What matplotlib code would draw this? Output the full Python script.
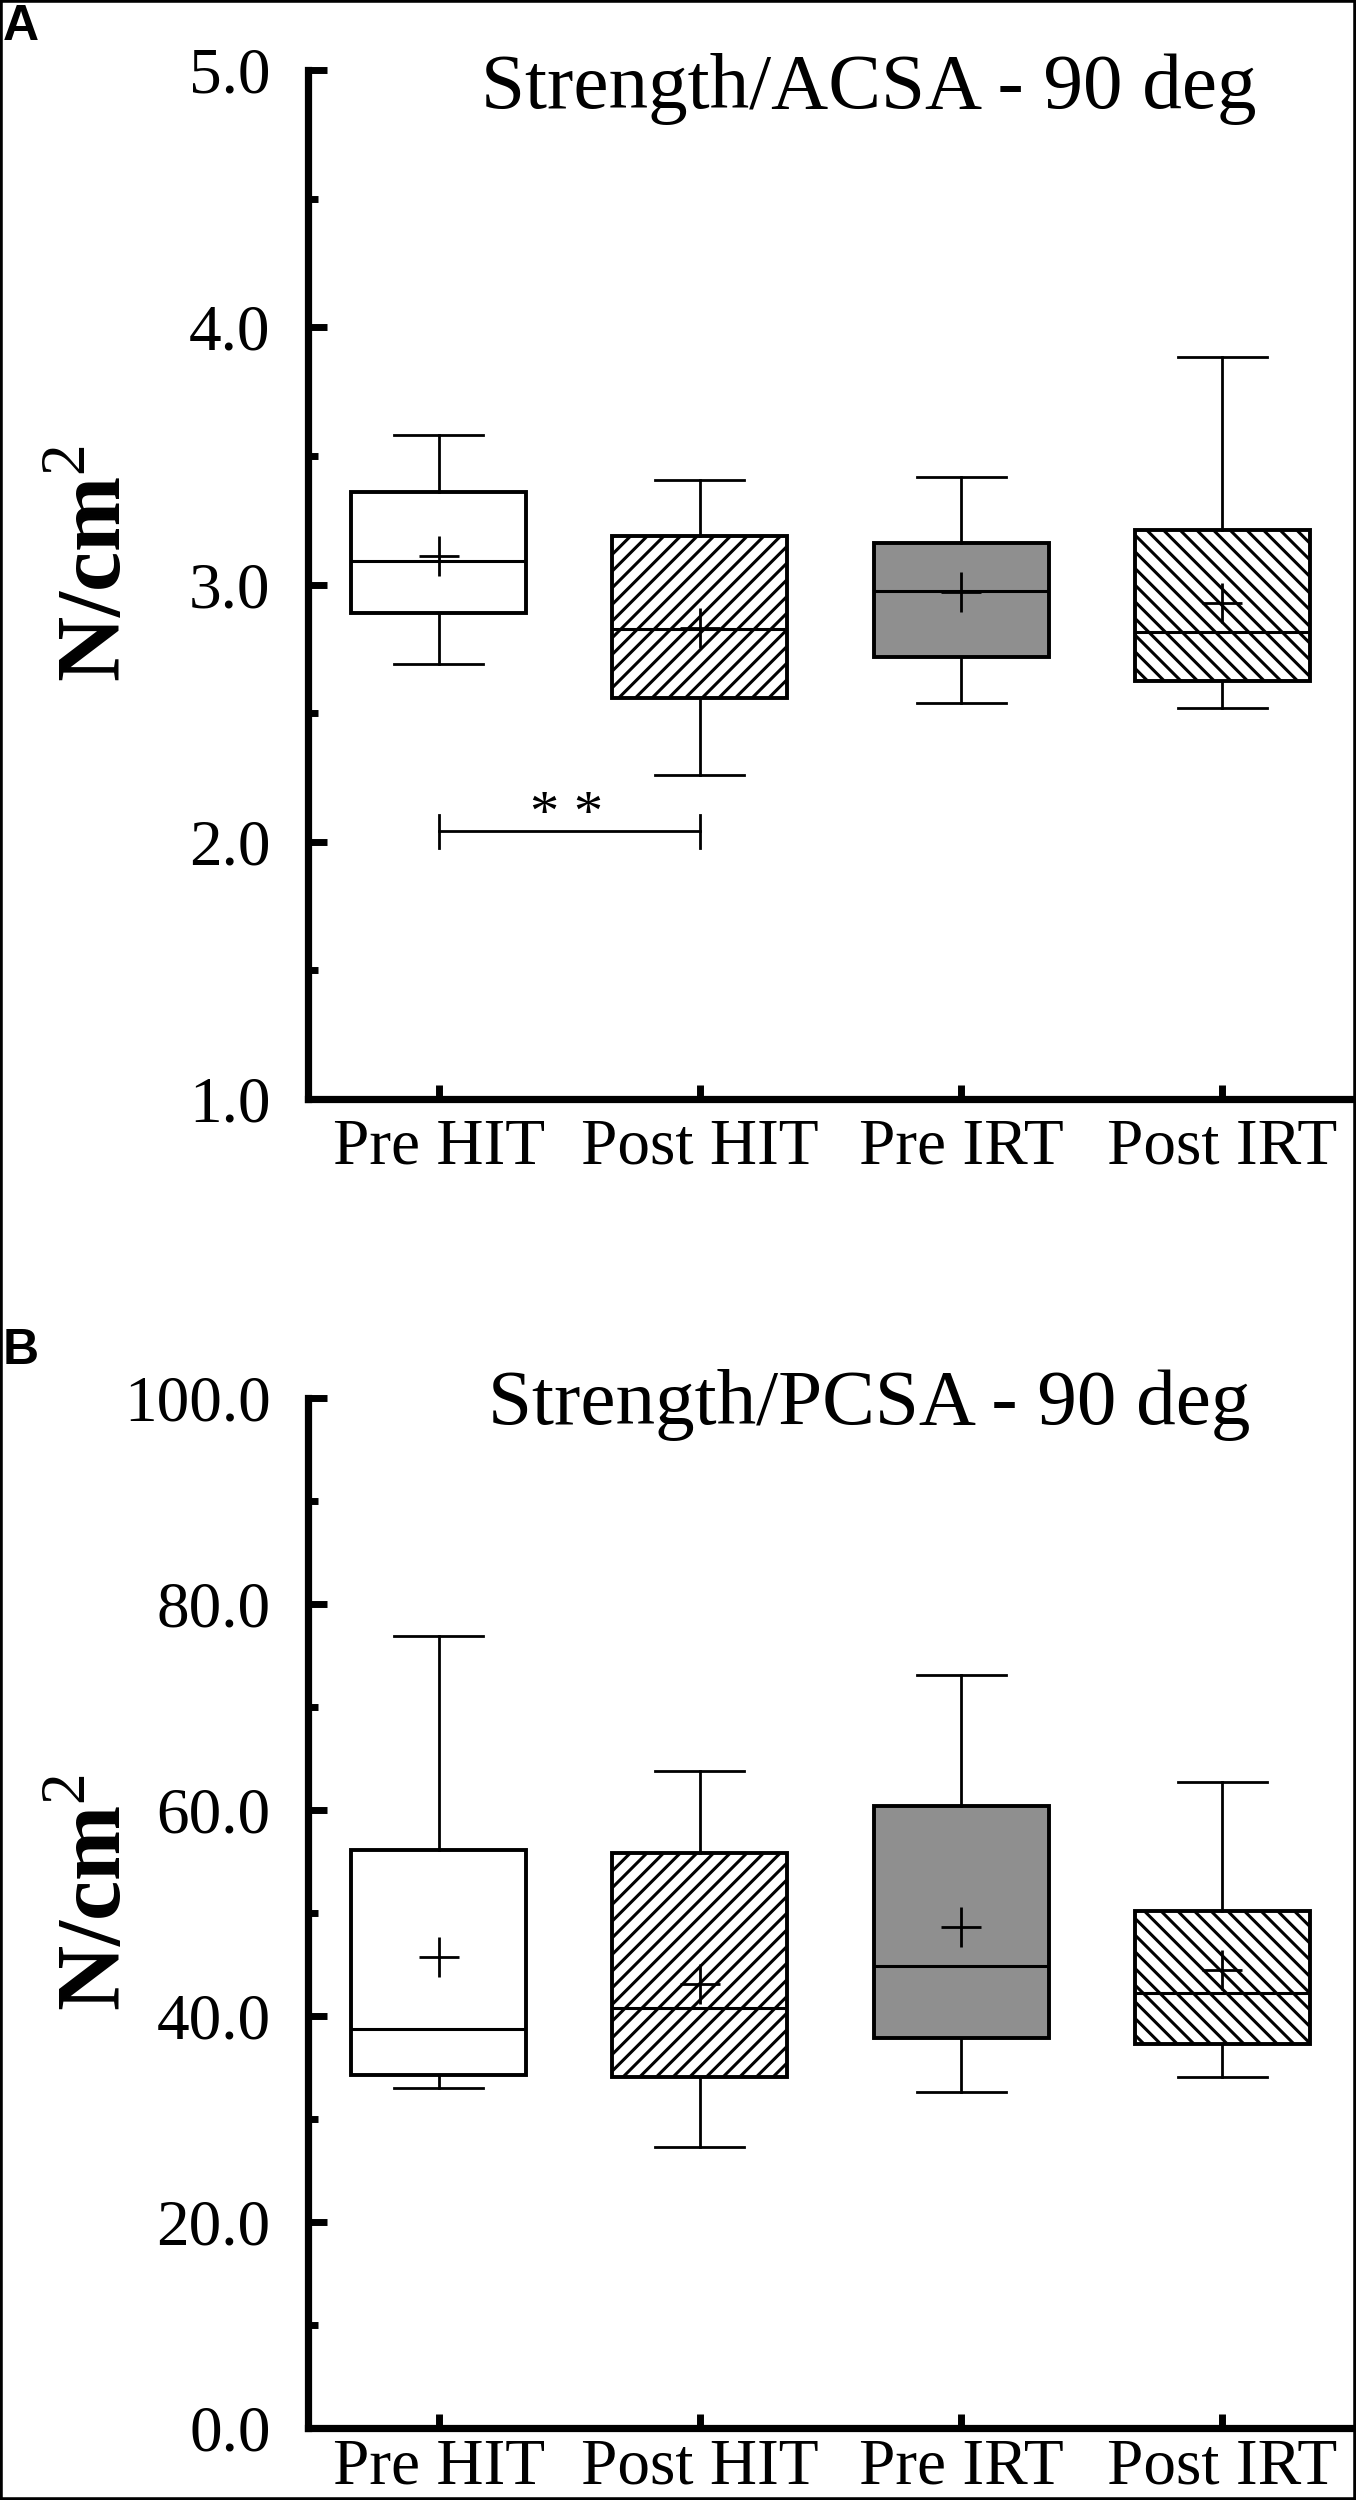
import matplotlib
matplotlib.use("Agg")
import matplotlib.pyplot as plt
from matplotlib.patches import Rectangle
from matplotlib.ticker import MultipleLocator, FormatStrFormatter

plt.rcParams['font.family'] = ['Liberation Serif', 'DejaVu Serif']
plt.rcParams['mathtext.fontset'] = 'custom'
plt.rcParams['mathtext.rm'] = 'Liberation Serif'
plt.rcParams['hatch.linewidth'] = 2.2

categories = ["Pre HIT", "Post HIT", "Pre IRT", "Post IRT"]

# Panel A: Strength/ACSA - 90 deg
a_whislo = [2.69, 2.26, 2.54, 2.52]
a_q1 = [2.89, 2.56, 2.72, 2.625]
a_med = [3.09, 2.827, 2.975, 2.817]
a_q3 = [3.36, 3.19, 3.16, 3.21]
a_whishi = [3.58, 3.405, 3.418, 3.885]
a_mean = [3.11, 2.83, 2.97, 2.93]

# Panel B: Strength/PCSA - 90 deg
b_whislo = [33.0, 27.3, 32.6, 34.1]
b_q1 = [34.3, 34.1, 37.9, 37.3]
b_med = [38.7, 40.8, 44.9, 42.2]
b_q3 = [56.1, 55.8, 60.4, 50.2]
b_whishi = [76.9, 63.8, 73.1, 62.7]
b_mean = [45.7, 43.1, 48.6, 44.5]

fills = ["white", "white", "#8f8f8f", "white"]
hatches = [None, "//", None, "\\\\"]

W, H = 1356, 2500
fig = plt.figure(figsize=(W / 100, H / 100), dpi=100)

axA = fig.add_axes([308 / W, 1 - 1099 / H, (1353 - 308) / W, (1099 - 70) / H])
axB = fig.add_axes([308 / W, 1 - 2428 / H, (1353 - 308) / W, (2428 - 1398) / H])


def draw_panel(ax, lo, q1, med, q3, hi, mean, ylim, major, minor, title, title_y, xpad):
    stats = []
    for i, name in enumerate(categories):
        stats.append(dict(label=name, whislo=lo[i], q1=q1[i], med=med[i],
                          q3=q3[i], whishi=hi[i], mean=mean[i], fliers=[]))
    bp = ax.bxp(stats, positions=[1, 2, 3, 4], widths=0.67, capwidths=0.34,
                patch_artist=True, showmeans=True, showfliers=False,
                boxprops=dict(linewidth=2.8, edgecolor="black"),
                whiskerprops=dict(linewidth=2.0, color="black"),
                capprops=dict(linewidth=2.0, color="black"),
                medianprops=dict(linewidth=2.2, color="black"),
                meanprops=dict(marker="+", markersize=29, markeredgewidth=2.0,
                               markeredgecolor="black"))
    for patch, fc, h in zip(bp["boxes"], fills, hatches):
        patch.set_facecolor(fc)
        if h:
            patch.set_hatch(h)
    ax.set_xlim(0.5, 4.5)
    ax.set_ylim(*ylim)
    ax.yaxis.set_major_locator(MultipleLocator(major))
    ax.yaxis.set_minor_locator(MultipleLocator(minor))
    ax.yaxis.set_major_formatter(FormatStrFormatter("%.1f"))
    for s in ["top", "right"]:
        ax.spines[s].set_visible(False)
    for s in ["left", "bottom"]:
        ax.spines[s].set_linewidth(5.2)
    ax.tick_params(axis="y", which="major", direction="in", length=14, width=5,
                   labelsize=47, pad=27)
    ax.tick_params(axis="y", which="minor", direction="in", length=7, width=5)
    ax.tick_params(axis="x", which="major", direction="in", length=10, width=5,
                   labelsize=47, pad=xpad)
    ax.set_xticks([1, 2, 3, 4])
    ax.set_xticklabels(categories)
    ax.text(0.537, title_y, title, transform=ax.transAxes, ha="center",
            va="baseline", fontsize=57)
    ax.text(-0.20, 0.52, "N/cm$^{2}$", transform=ax.transAxes, rotation=90,
            ha="center", va="center", fontsize=65, fontweight="bold")


draw_panel(axA, a_whislo, a_q1, a_med, a_q3, a_whishi, a_mean, (1, 5), 1, 0.5,
           "Strength/ACSA - 90 deg", 0.963, 14)
draw_panel(axB, b_whislo, b_q1, b_med, b_q3, b_whishi, b_mean, (0, 100), 20, 10,
           "Strength/PCSA - 90 deg", 0.975, 7)

# significance bracket (Pre HIT vs Post HIT)
axA.plot([1, 2], [2.04, 2.04], color="black", lw=2.0)
axA.plot([1, 1], [1.975, 2.105], color="black", lw=2.0)
axA.plot([2, 2], [1.975, 2.105], color="black", lw=2.0)
axA.text(1.49, 2.045, "* *", ha="center", va="baseline", fontsize=42)

# panel letters
fig.text(3 / W, 1 - 40 / H, "A", family="Liberation Sans", fontweight="bold",
         fontsize=36, va="baseline", ha="left")
fig.text(3 / W, 1 - 1364 / H, "B", family="Liberation Sans", fontweight="bold",
         fontsize=36, va="baseline", ha="left")

# outer frame
fig.patches.append(Rectangle((0, 0), 1, 1, transform=fig.transFigure, fill=False,
                             edgecolor="black", linewidth=4))

fig.savefig("out.png", dpi=100)
